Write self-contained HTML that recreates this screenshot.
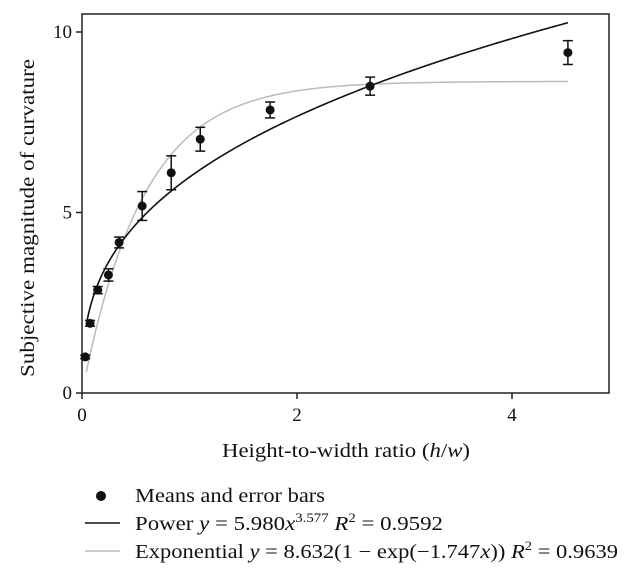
<!DOCTYPE html>
<html><head><meta charset="utf-8"><style>
body{margin:0;background:#fff;width:633px;height:580px;overflow:hidden;font-family:"Liberation Serif",serif}
svg text{font-family:"Liberation Serif",serif;fill:#111}
</style></head><body>
<svg id="chart" width="633" height="580" xmlns="http://www.w3.org/2000/svg">
<rect x="82" y="14" width="527" height="379" fill="none" stroke="#222" stroke-width="1.5"/>
<g id="ticks"></g>
<g id="curves"></g>
<g id="points"></g>
<text transform="translate(34,218) rotate(-90)" text-anchor="middle" font-size="20" textLength="318" lengthAdjust="spacingAndGlyphs">Subjective magnitude of curvature</text>
<text x="346" y="457" text-anchor="middle" font-size="20" textLength="248" lengthAdjust="spacingAndGlyphs">Height-to-width ratio (<tspan font-style="italic">h</tspan>/<tspan font-style="italic">w</tspan>)</text>
<g font-size="20">
<circle cx="101" cy="496" r="5" fill="#111"/>
<text x="135" y="502" textLength="190" lengthAdjust="spacingAndGlyphs">Means and error bars</text>
<line x1="85" y1="523" x2="120" y2="523" stroke="#111" stroke-width="1.5"/>
<text x="135" y="530" textLength="308" lengthAdjust="spacingAndGlyphs">Power <tspan font-style="italic">y</tspan> = 5.980<tspan font-style="italic">x</tspan><tspan font-size="13" dy="-8">3.577</tspan><tspan dy="8"> </tspan><tspan font-style="italic">R</tspan><tspan font-size="13" dy="-8">2</tspan><tspan dy="8"> = 0.9592</tspan></text>
<line x1="85" y1="551" x2="120" y2="551" stroke="#bbb" stroke-width="1.5"/>
<text x="135" y="558" textLength="483" lengthAdjust="spacingAndGlyphs">Exponential <tspan font-style="italic">y</tspan> = 8.632(1 − exp(−1.747<tspan font-style="italic">x</tspan>)) <tspan font-style="italic">R</tspan><tspan font-size="13" dy="-8">2</tspan><tspan dy="8"> = 0.9639</tspan></text>
</g>
</svg>
<script>
const xs=[0.03,0.075,0.146,0.246,0.345,0.56,0.83,1.1,1.75,2.68,4.52];
const ys=[1.0,1.93,2.85,3.27,4.17,5.18,6.1,7.03,7.84,8.5,9.43];
const errs=[0.05,0.08,0.1,0.17,0.15,0.4,0.47,0.33,0.22,0.25,0.33];
const xTicks=[0,2,4];
const yTicks=[0,5,10];
const powerA=5.98, powerB=0.3577;
const expA=8.632, expK=1.747;
const X=v=>82+v*107.5, Y=v=>393-v*36.1;
const NS="http://www.w3.org/2000/svg";
function mk(t,a,p){const e=document.createElementNS(NS,t);for(const k in a)e.setAttribute(k,a[k]);p.appendChild(e);return e;}
const tg=document.getElementById('ticks');
xTicks.forEach(v=>{
 const l=mk('line',{x1:X(v),x2:X(v),y1:393,y2:399,stroke:'#222','stroke-width':1.5},tg);
 
 
 const t=mk('text',{x:X(v),y:421,'text-anchor':'middle','font-size':19},tg);t.textContent=v;
 
 
});
yTicks.forEach(v=>{
 const l=mk('line',{x1:76,x2:82,y1:Y(v),y2:Y(v),stroke:'#222','stroke-width':1.5},tg);
 
 
 const t=mk('text',{x:72,y:Y(v)+6,'text-anchor':'end','font-size':19},tg);t.textContent=v;
 
 
});
const cg=document.getElementById('curves');
let pe='',pp='';
const x0=0.04,x1=xs[xs.length-1];
for(let i=0;i<=300;i++){const x=x0+(x1-x0)*i/300;
 pe+=(i?'L':'M')+X(x).toFixed(2)+','+Y(expA*(1-Math.exp(-expK*x))).toFixed(2);
 pp+=(i?'L':'M')+X(x).toFixed(2)+','+Y(powerA*Math.pow(x,powerB)).toFixed(2);}
const ce=mk('path',{d:pe,fill:'none',stroke:'#bbb','stroke-width':1.5},cg);


const cp=mk('path',{d:pp,fill:'none',stroke:'#111','stroke-width':1.6},cg);


const pg=document.getElementById('points');
xs.forEach((x,i)=>{
 const cx=X(x),y1=Y(ys[i]+errs[i]),y2=Y(ys[i]-errs[i]);
 const g=mk('g',{},pg);
 
 
 mk('line',{x1:cx,x2:cx,y1:y1,y2:y2,stroke:'#111','stroke-width':1.5},g);
 mk('line',{x1:cx-5,x2:cx+5,y1:y1,y2:y1,stroke:'#111','stroke-width':1.5},g);
 mk('line',{x1:cx-5,x2:cx+5,y1:y2,y2:y2,stroke:'#111','stroke-width':1.5},g);
 mk('circle',{cx:cx,cy:Y(ys[i]),r:4.5,fill:'#111'},g);
});
</script>
</body></html>
